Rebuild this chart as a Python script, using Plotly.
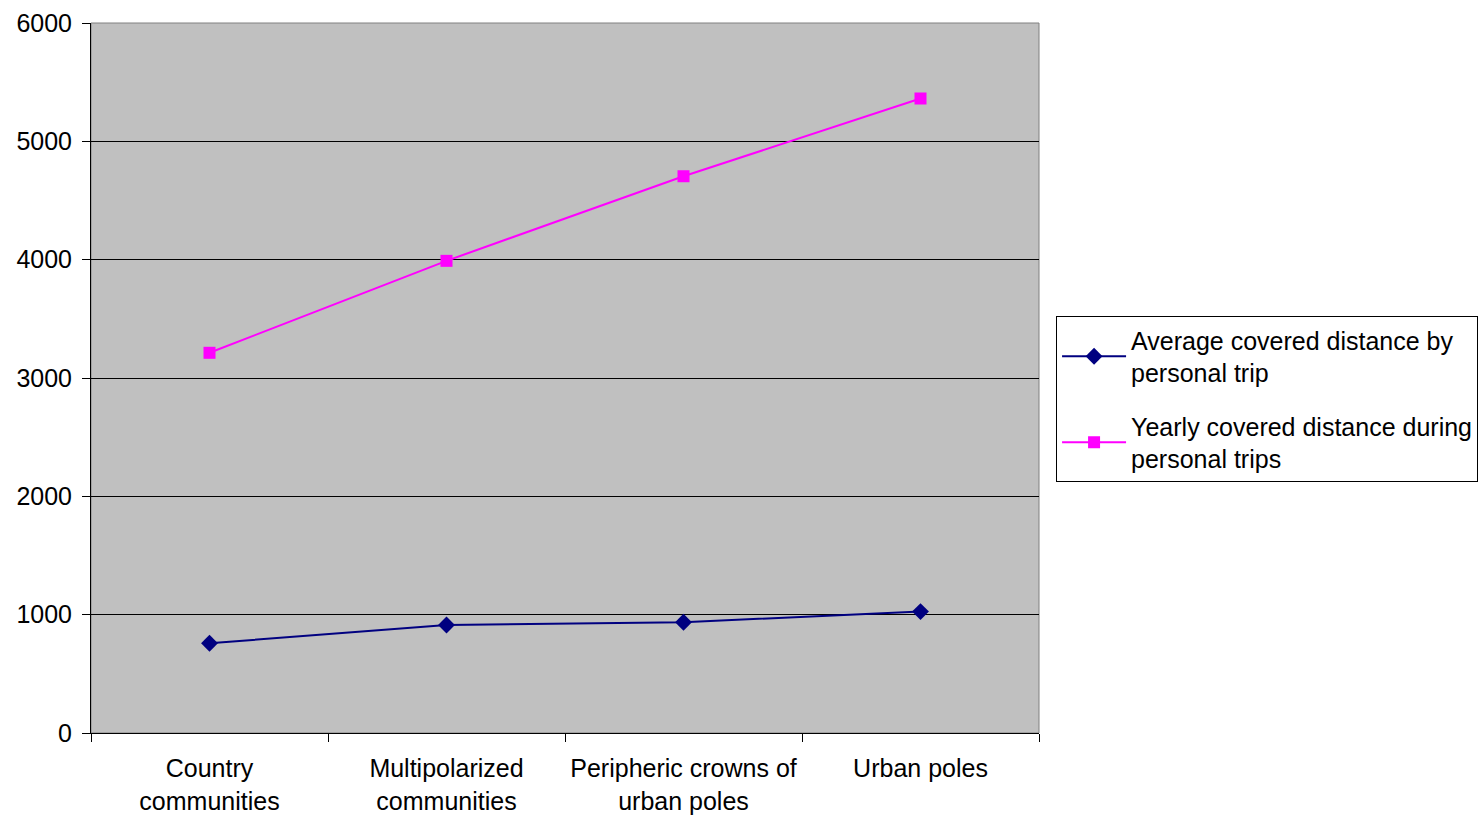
import plotly.graph_objects as go

categories = ["Country<br>communities", "Multipolarized<br>communities",
              "Peripheric crowns of<br>urban poles", "Urban poles"]
avg_trip = [758, 913, 936, 1026]
yearly = [3213, 3990, 4705, 5362]
series_names = ["Average covered distance by<br>personal trip",
                "Yearly covered distance during<br>personal trips"]
y_ticks = [0, 1000, 2000, 3000, 4000, 5000, 6000]

fig = go.Figure()
fig.add_trace(go.Scatter(x=categories, y=avg_trip, mode="lines+markers",
                         name=series_names[0], legendgroup="a",
                         line=dict(color="#000080", width=2),
                         marker=dict(symbol="diamond", size=13, color="#000080")))
fig.add_trace(go.Scatter(x=categories, y=yearly, mode="lines+markers",
                         name=series_names[1], legendgroup="b",
                         line=dict(color="#FF00FF", width=2),
                         marker=dict(symbol="square", size=12, color="#FF00FF")))

fig.update_layout(
    width=1482, height=815,
    margin=dict(l=91, r=443, t=23, b=82, autoexpand=False),
    plot_bgcolor="#C0C0C0", paper_bgcolor="white",
    font=dict(family="Liberation Sans, Arial, sans-serif", size=25, color="black"),
    showlegend=True,
    legend=dict(x=1.018, y=0.587, xanchor="left", yanchor="top",
                bordercolor="black", borderwidth=1, bgcolor="white",
                font=dict(size=25), tracegroupgap=18, itemwidth=64),
    xaxis=dict(type="category", range=[-0.5, 3.5], tickson="boundaries",
               ticks="outside", ticklen=8, tickcolor="black", automargin=False,
               showline=True, linecolor="black", linewidth=1,
               showgrid=False, tickfont=dict(size=25), ticklabelstandoff=13),
    yaxis=dict(range=[0, 6000], tickvals=y_ticks, ticks="outside", ticklen=8,
               tickcolor="black", showline=True, linecolor="black", linewidth=1,
               showgrid=True, gridcolor="black", gridwidth=1, automargin=False,
               zeroline=False, tickfont=dict(size=25), ticklabelstandoff=5),
)
fig.add_shape(type="rect", xref="paper", yref="paper", x0=0, y0=0, x1=1, y1=1,
              line=dict(color="#808080", width=1), layer="below")

fig.write_html("out.html", config={"displayModeBar": False},
               post_script="document.body.style.margin='0';document.body.style.overflow='hidden';")
